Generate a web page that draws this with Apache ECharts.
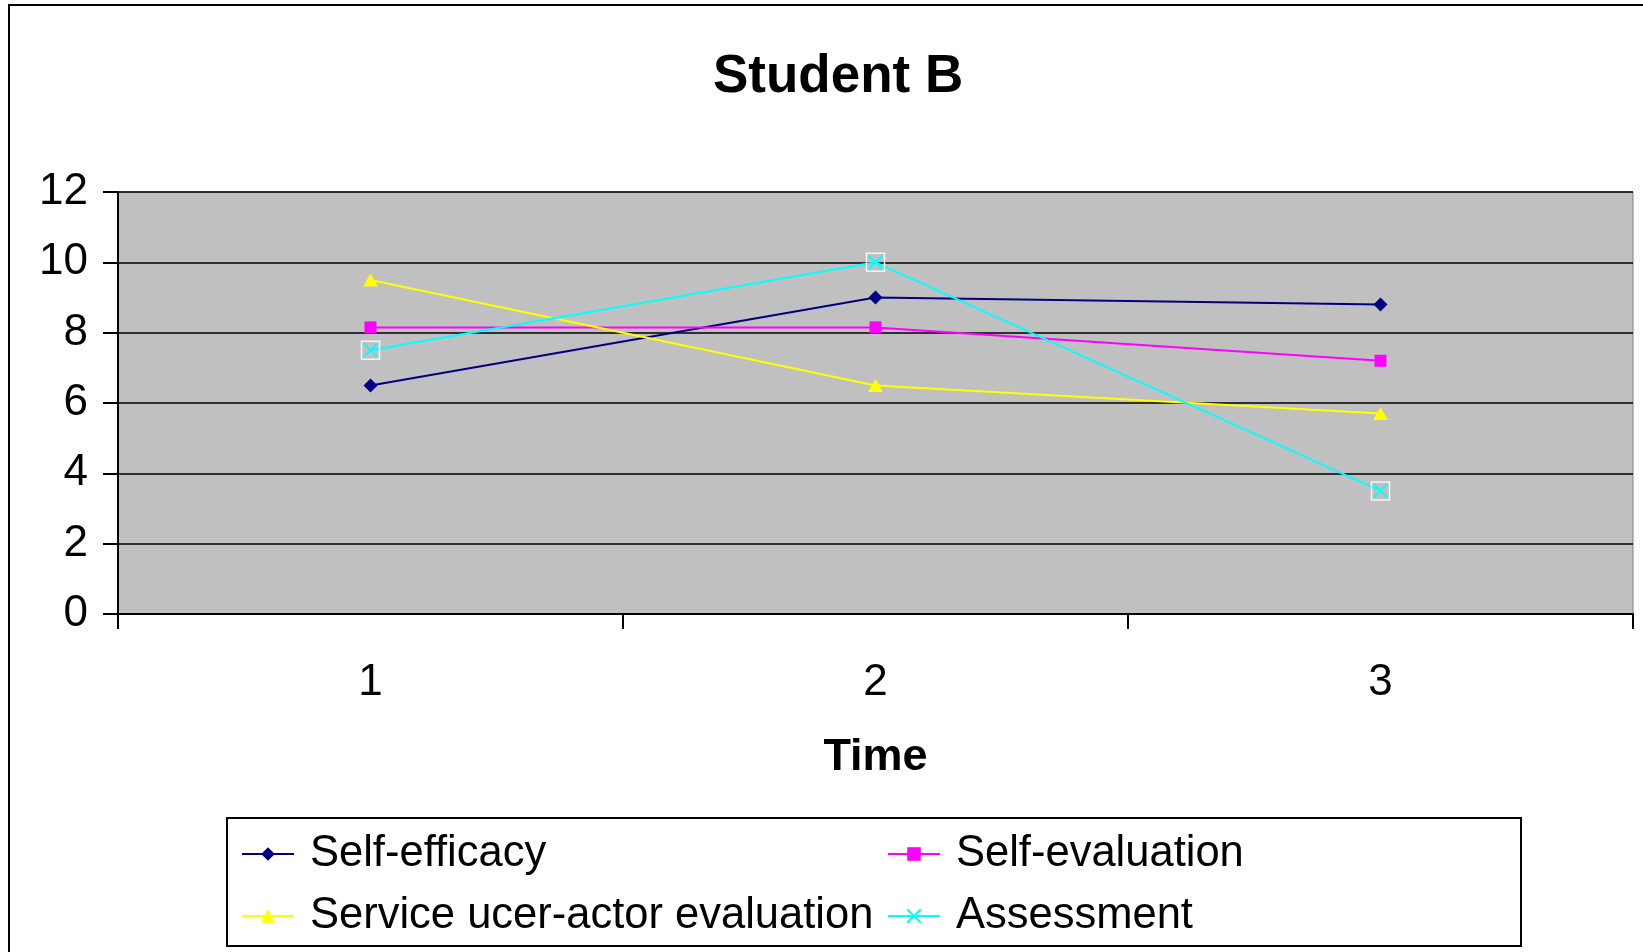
<!DOCTYPE html>
<html>
<head>
<meta charset="utf-8">
<title>Student B</title>
<script src="https://cdn.jsdelivr.net/npm/echarts@6/dist/echarts.min.js"></script>
<style>
  html, body { margin: 0; padding: 0; background: #fff; }
  #chart { width: 1643px; height: 952px; }
</style>
</head>
<body>
<div id="chart"></div>
<script>
// data
const times = ["1", "2", "3"];
const selfEfficacy = [6.5, 9.0, 8.8];
const selfEvaluation = [8.15, 8.15, 7.2];
const serviceUser = [9.5, 6.5, 5.7];
const assessment = [7.5, 10, 3.5];
const yTicks = [0, 2, 4, 6, 8, 10, 12];

const FONT = "Liberation Sans, Arial, sans-serif";
const chart = echarts.init(document.getElementById("chart"));

const legendText = {
  fontFamily: FONT,
  fontSize: 43.5,
  lineHeight: 44,
  color: "#000",
  padding: [0, 0, 0, 11],
};

const option = {
  animation: false,
  backgroundColor: "#fff",
  title: {
    text: "Student B",
    left: 708,
    top: 46,
    textStyle: { fontFamily: FONT, fontSize: 53, fontWeight: "bold", color: "#000" },
  },
  graphic: [
    // outer chart frame (only left/top edges visible)
    {
      type: "rect",
      shape: { x: 9, y: 5, width: 1700, height: 1000 },
      style: { fill: "none", stroke: "#000", lineWidth: 2 },
      silent: true,
    },
    // legend box
    {
      type: "rect",
      shape: { x: 227, y: 818, width: 1294, height: 128 },
      style: { fill: "none", stroke: "#000", lineWidth: 2 },
      silent: true,
    },
  ],
  legend: [
    {
      data: ["Self-efficacy", "Service ucer-actor evaluation"],
      orient: "vertical",
      left: 241,
      top: 832,
      padding: 0,
      itemWidth: 52,
      itemHeight: 17,
      itemGap: 18,
      textStyle: legendText,
    },
    {
      data: ["Self-evaluation", "Assessment"],
      orient: "vertical",
      left: 887,
      top: 832,
      padding: 0,
      itemWidth: 52,
      itemHeight: 17,
      itemGap: 18,
      textStyle: legendText,
    },
  ],
  grid: {
    left: 118,
    top: 192,
    right: 10,
    bottom: 338,
    show: true,
    backgroundColor: "#C0C0C0",
    borderColor: "#808080",
    borderWidth: 1,
  },
  xAxis: {
    type: "category",
    data: times,
    boundaryGap: true,
    name: "Time",
    nameLocation: "middle",
    nameGap: 121,
    nameTextStyle: { fontFamily: FONT, fontSize: 45, fontWeight: "bold", color: "#000" },
    axisLine: { show: true, lineStyle: { color: "#000", width: 2 } },
    axisTick: { show: true, length: 15, lineStyle: { color: "#000", width: 2 } },
    axisLabel: { fontFamily: FONT, fontSize: 44, color: "#000", margin: 47 },
    splitLine: { show: false },
  },
  yAxis: {
    type: "value",
    min: yTicks[0],
    max: yTicks[yTicks.length - 1],
    interval: 2,
    axisLine: { show: true, lineStyle: { color: "#000", width: 2 } },
    axisTick: { show: true, length: 15, lineStyle: { color: "#000", width: 2 } },
    axisLabel: { fontFamily: FONT, fontSize: 44, color: "#000", margin: 30 },
    splitLine: { show: true, lineStyle: { color: "#000", width: 1.5 } },
  },
  series: [
    {
      name: "Self-efficacy",
      type: "line",
      data: selfEfficacy,
      symbol: "diamond",
      symbolSize: 14,
      itemStyle: { color: "#000080" },
      lineStyle: { color: "#000080", width: 2 },
      z: 3,
    },
    {
      name: "Self-evaluation",
      type: "line",
      data: selfEvaluation,
      symbol: "rect",
      symbolSize: 12,
      itemStyle: { color: "#FF00FF" },
      lineStyle: { color: "#FF00FF", width: 2 },
      z: 3,
    },
    {
      name: "Service ucer-actor evaluation",
      type: "line",
      data: serviceUser,
      symbol: "triangle",
      symbolSize: [15, 13],
      itemStyle: { color: "#FFFF00" },
      lineStyle: { color: "#FFFF00", width: 2 },
      z: 3,
    },
    {
      name: "Assessment",
      type: "line",
      data: assessment,
      symbol: "path://M0,0L10,10M10,0L0,10",
      symbolSize: 13,
      itemStyle: { color: "#00FFFF", borderColor: "#00FFFF", borderWidth: 2 },
      lineStyle: { color: "#00FFFF", width: 2 },
      z: 4,
    },
    // white square frame around the Assessment markers
    {
      name: "Assessment frame",
      type: "line",
      data: assessment,
      symbol: "rect",
      symbolSize: 18,
      showSymbol: true,
      itemStyle: { color: "none", borderColor: "#F4F4F4", borderWidth: 1.5 },
      lineStyle: { opacity: 0 },
      z: 5,
      silent: true,
    },
  ],
};

chart.setOption(option);
</script>
</body>
</html>
